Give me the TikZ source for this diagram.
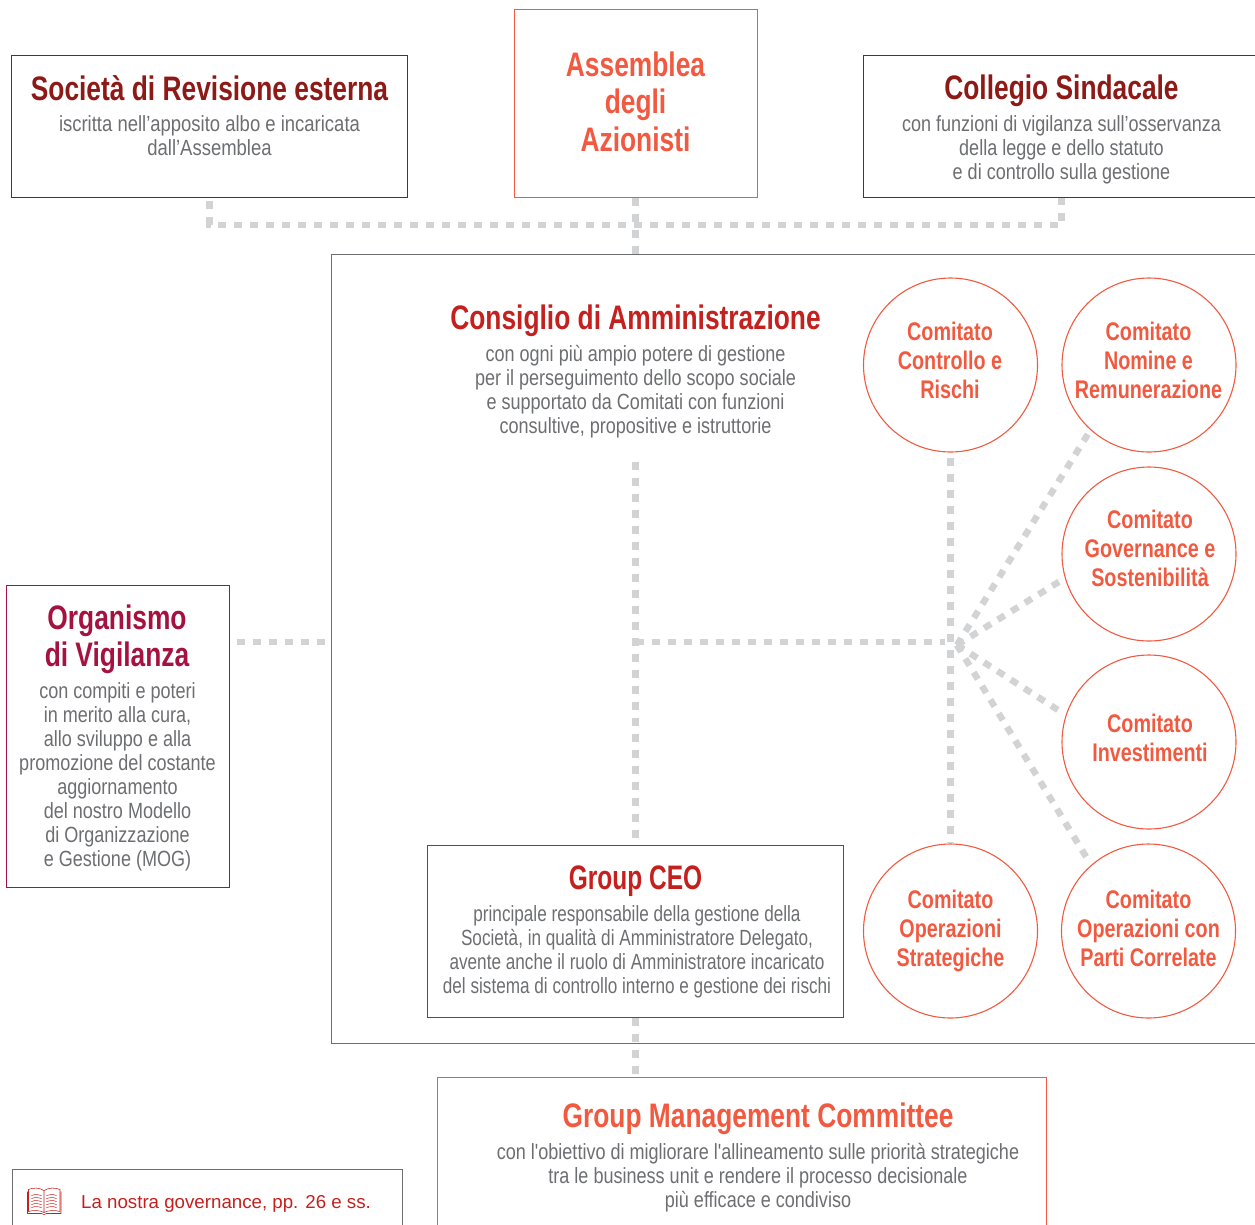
\documentclass[tikz,border=0pt]{standalone}
\usepackage{fontspec}
\setmainfont{Liberation Sans}
\newfontfamily\condbody[FakeStretch=0.82]{Liberation Sans}
\newfontfamily\condwide[FakeStretch=0.84]{Liberation Sans}
\newfontfamily\condtight[FakeStretch=0.78]{Liberation Sans}
\newfontfamily\condhead[FakeStretch=0.775]{Liberation Sans Bold}
\newfontfamily\condheadtight[FakeStretch=0.72]{Liberation Sans Bold}
\definecolor{coral}{HTML}{F15A40}
\definecolor{darkred}{HTML}{8E1A18}
\definecolor{midred}{HTML}{C4201D}
\definecolor{crimson}{HTML}{A5123F}
\definecolor{txtgray}{HTML}{6D6E71}
\definecolor{dashgray}{HTML}{D1D3D4}
\definecolor{boardline}{HTML}{6D6E71}
\tikzset{
  x=1pt,y=-1pt,
  framebox/.style={line width=1.2pt,inner sep=0pt,anchor=north west},
  comm/.style={draw=coral,line width=1.1pt,circle,inner sep=0pt,minimum size=174pt},
  commtext/.style={text=coral,align=center,font=\condhead\fontsize{25.5}{29}\selectfont},
  head/.style={align=center,font=\condhead\fontsize{34}{37.5}\selectfont},
  headtight/.style={align=center,font=\condheadtight\fontsize{34}{37.5}\selectfont},
  body/.style={text=txtgray,align=center,font=\condbody\fontsize{22}{24}\selectfont},
  bodywide/.style={text=txtgray,align=center,font=\condwide\fontsize{22}{24}\selectfont},
  bodytight/.style={text=txtgray,align=center,font=\condtight\fontsize{22}{24}\selectfont},
  link/.style={draw=dashgray,line width=6.5pt,dash pattern=on 8pt off 8pt},
}
\newcommand{\boxat}[6]{\node[framebox,draw=#2,minimum width=#5 pt,minimum height=#6 pt] (#1) at (#3,#4) {};}
\begin{document}
\begin{tikzpicture}
\useasboundingbox (0,0) rectangle (1255,1224);
\clip (0,0) rectangle (1255,1224);
% boxes
\boxat{board}{boardline}{330.5}{253.5}{1000}{789}
\boxat{rev}{darkred}{11}{55}{396}{142}
\boxat{ass}{coral}{513.5}{9}{243}{188}
\boxat{coll}{darkred}{863}{55}{396}{142}
\boxat{odv}{crimson}{6}{584.5}{223}{302}
\boxat{ceo}{midred}{427}{844.5}{416}{172.5}
\boxat{gmc}{coral}{437}{1077}{609}{170}
\boxat{gov}{boardline}{11.5}{1169}{390}{90}
% named points
\coordinate (hub) at (957,645);
\coordinate (mid) at (635.5,642);
\coordinate (bar) at (635.5,225);
\coordinate (txtend) at (635.5,462);
% circles
\node[comm] (c1) at (950.5,365) {};
\node[comm] (c2) at (1149,365) {};
\node[comm] (c3) at (1149,554) {};
\node[comm] (c4) at (1149,742) {};
\node[comm] (c5) at (950.5,931) {};
\node[comm] (c6) at (1148.5,931) {};
% connectors
\draw[link] ([yshift=-3pt]rev.south) |- (bar) -| (coll.south);
\draw[link] (ass.south) -- (ass.south |- board.north);
\draw[link] ([xshift=7pt]odv.east |- mid) -- ([xshift=-5pt]board.west |- mid);
\draw[link] (txtend) -- (ceo.north -| txtend);
\draw[link] (mid) -- ([xshift=-6pt]c1.south |- mid);
\draw[link] ([yshift=-5pt]c1.south) -- ([yshift=1pt]c5.north);
\draw[link,shorten >=5pt] (hub) -- (c2.228);
\draw[link,shorten >=7pt] (hub) -- (c3.196);
\draw[link,shorten >=7pt] (hub) -- (c4.162);
\draw[link,shorten >=5pt] (hub) -- (c6.131);
\draw[link] (ceo.south) -- (ceo.south |- gmc.north);
% box texts
\node[head,text=darkred] (revh) at (209.5,88) {Società di Revisione esterna};
\node[bodywide] (revb) at (209.5,136) {iscritta nell’apposito albo e incaricata\\dall’Assemblea};
\node[head,text=coral] (assh) at (635.5,101.5) {Assemblea\\degli\\Azionisti};
\node[head,text=darkred] (collh) at (1061.5,91) {Collegio Sindacale};
\node[body] (collb) at (1061.5,150) {con funzioni di vigilanza sull’osservanza\\della legge e dello statuto\\e di controllo sulla gestione};
\node[head,text=midred] (cdah) at (635.5,321) {Consiglio di Amministrazione};
\node[body] (cdab) at (635.5,392) {con ogni più ampio potere di gestione\\per il perseguimento dello scopo sociale\\e supportato da Comitati con funzioni\\consultive, propositive e istruttorie};
\node[head,text=crimson] (odvh) at (117,639.5) {Organismo\\di Vigilanza};
\node[body] (odvb) at (117.5,777) {con compiti e poteri\\in merito alla cura,\\allo sviluppo e alla\\promozione del costante\\aggiornamento\\del nostro Modello\\di Organizzazione\\e Gestione (MOG)};
\node[headtight,text=midred] (ceoh) at (635.5,881.5) {Group CEO};
\node[bodytight] (ceob) at (637,952) {principale responsabile della gestione della\\Società, in qualità di Amministratore Delegato,\\avente anche il ruolo di Amministratore incaricato\\del sistema di controllo interno e gestione dei rischi};
\node[head,text=coral] (gmch) at (758,1119) {Group Management Committee};
\node[body] (gmcb) at (758,1178) {con l'obiettivo di migliorare l'allineamento sulle priorità strategiche\\tra le business unit e rendere il processo decisionale\\più efficace e condiviso};
% circle texts
\node[commtext] (t1) at (950,360) {Comitato\\Controllo e\\Rischi};
\node[commtext] (t2) at (1148.5,360) {Comitato\\Nomine e\\Remunerazione};
\node[commtext] (t3) at (1150,548.5) {Comitato\\Governance e\\Sostenibilità};
\node[commtext] (t4) at (1150,738) {Comitato\\Investimenti};
\node[commtext] (t5) at (950.5,931) {Comitato\\Operazioni\\Strategiche};
\node[commtext] (t6) at (1148.5,928) {Comitato\\Operazioni con\\Parti Correlate};
% footer
\node[anchor=west,text=midred,font=\fontsize{18.7}{23}\selectfont,inner sep=0pt] (govt) at (81,1204) {La nostra governance, pp. 26 e ss.};
\begin{scope}[shift={(27.5,1187.5)},draw=midred,line width=0.55pt,line join=round]
  \draw (16.5,3) .. controls (12,0) and (5,0) .. (1,2) -- (1,24) .. controls (5,22.5) and (12,22.5) .. (16.5,25)
        .. controls (21,22.5) and (28,22.5) .. (32.5,24) -- (32.5,2) .. controls (28,0) and (21,0) .. (16.5,3) -- (16.5,25);
  \draw (0,4) -- (0,26) -- (14,26) -- (16.5,27) -- (19,26) -- (33.5,26) -- (33.5,4);
  \foreach \yy in {8,11,14,17,20}{
    \draw (4,\yy) .. controls (8,\yy-1.5) and (10,\yy-1) .. (14,\yy);
    \draw (19,\yy) .. controls (23,\yy-1) and (25,\yy-1.5) .. (29,\yy);
  }
\end{scope}
\end{tikzpicture}
\end{document}
